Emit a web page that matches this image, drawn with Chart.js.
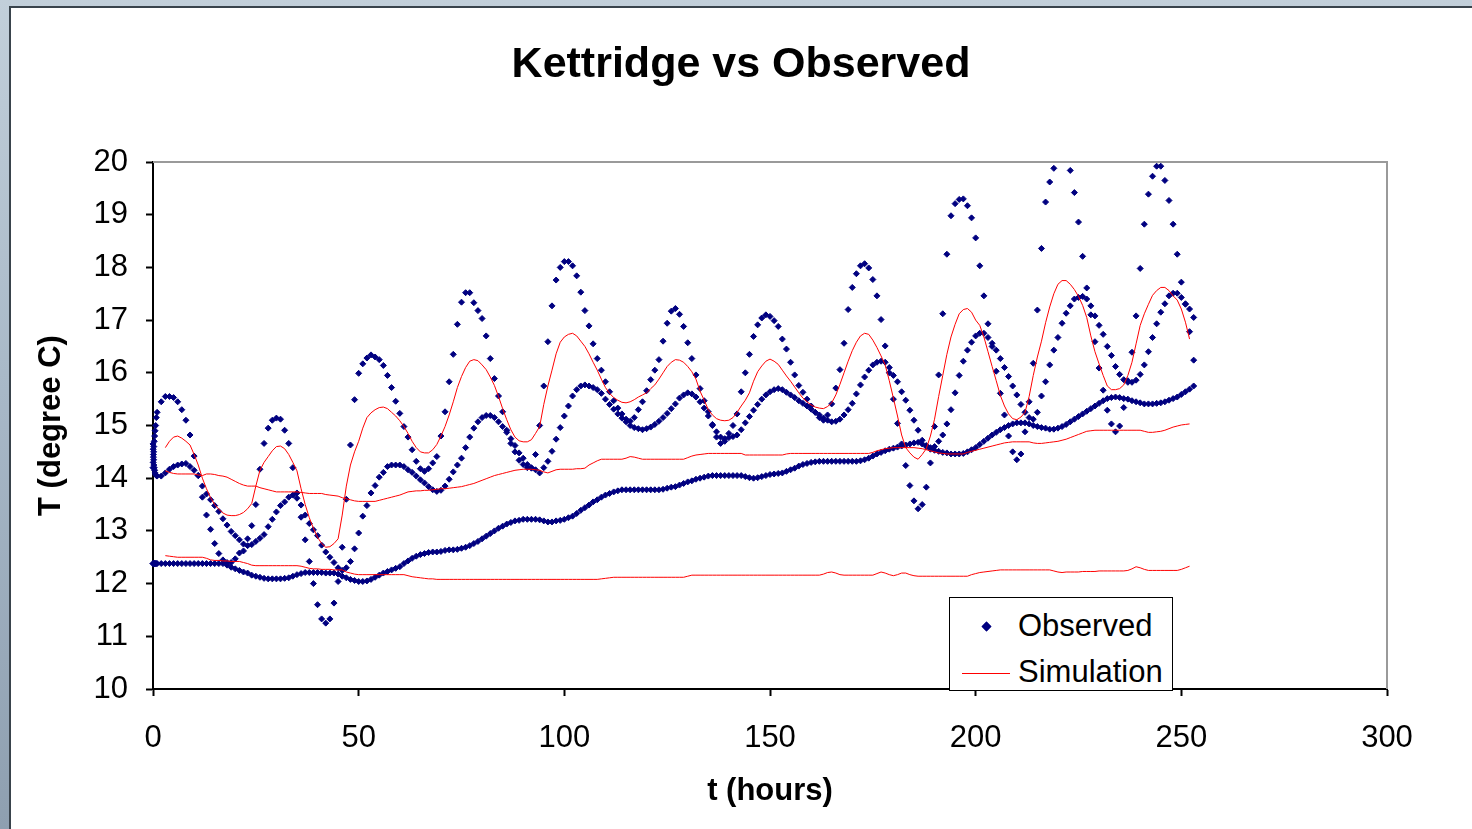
<!DOCTYPE html>
<html>
<head>
<meta charset="utf-8">
<title>Kettridge vs Observed</title>
<script src="https://cdn.jsdelivr.net/npm/chart.js@4.4.1/dist/chart.umd.min.js"></script>
<style>
html,body{margin:0;padding:0;}
body{width:1472px;height:829px;overflow:hidden;position:relative;
  background:linear-gradient(180deg,#c2cfda 0%,#a9b9c8 45%,#8e9fb0 100%);
  font-family:"Liberation Sans",Arial,sans-serif;}
#panel{position:absolute;left:9px;top:6px;right:-4px;bottom:-4px;background:#fff;
  border-left:2px solid #39434c;border-top:2px solid #39434c;}
#wrap{position:absolute;left:0;top:0;width:1472px;height:829px;}
#legend{position:absolute;left:949px;top:597px;width:222px;height:92px;border:1px solid #000;background:#fff;}
#legend .lbl{position:absolute;left:68px;font-size:31px;line-height:36px;color:#000;white-space:nowrap;}
#legend .dia{position:absolute;width:5px;height:5px;background:#000080;border:0.5px solid #000080;transform:rotate(45deg);}
#legend .ln{position:absolute;height:1px;background:#ff0000;}
</style>
</head>
<body>
<div id="panel"></div>
<div id="wrap"><canvas id="c"></canvas></div>
<div id="legend">
  <div class="dia" style="left:33px;top:25px;"></div>
  <div class="lbl" style="top:10px;">Observed</div>
  <div class="ln" style="left:12px;top:75px;width:48px;"></div>
  <div class="lbl" style="top:56px;">Simulation</div>
</div>
<script>
// ---------------- DATA ----------------
const titleText = 'Kettridge vs Observed';
const xTitle = 't (hours)';
const yTitle = 'T (degree C)';
const xTicks = [0, 50, 100, 150, 200, 250, 300];
const yTicks = [10, 11, 12, 13, 14, 15, 16, 17, 18, 19, 20];

// dense readings during the first hour (hours, degC)
const earlyHours   = [0.0, 0.05, 0.1, 0.15, 0.2, 0.3, 0.4, 0.5, 0.65, 0.8];
const earlyShallow = [14.2, 14.3, 14.4, 14.5, 14.6, 14.7, 14.8, 14.9, 15.0, 15.15];
const earlyMiddle  = [14.65, 14.55, 14.45, 14.35, 14.25, 14.2, 14.15, 14.1, 14.07, 14.05];
const earlyDeep    = [12.38, 12.38, 12.38, 12.38, 12.38, 12.38, 12.38, 12.38, 12.38, 12.38];

// hourly observed readings, first value at hour 1
const obsStartHour = 1;
const obsShallow = [
 15.25, 15.45, 15.55, 15.55, 15.53, 15.45, 15.3, 15.1, 14.82, 14.42,
 14.05, 13.64, 13.3, 13.03, 12.76, 12.57, 12.45, 12.4, 12.4, 12.47,
 12.58, 12.62, 12.85, 13.1, 13.5, 14.17, 14.66, 14.95, 15.1, 15.14,
 15.12, 14.91, 14.66, 14.2, 13.72, 13.26, 12.83, 12.42, 12.0, 11.6,
 11.33, 11.25, 11.33, 11.63, 12.04, 12.69, 13.6, 14.63, 15.49, 15.99,
 16.17, 16.28, 16.34, 16.3, 16.25, 16.14, 15.95, 15.72, 15.46, 15.23,
 14.98, 14.78, 14.54, 14.32, 14.18, 14.13, 14.18, 14.29, 14.41, 14.8,
 15.26, 15.83, 16.35, 16.92, 17.34, 17.52, 17.52, 17.33, 17.18, 17.03,
 16.7, 16.27, 15.89, 15.56, 15.26, 14.91, 14.66, 14.5, 14.34, 14.26,
 14.2, 14.19, 14.45, 15.0, 15.75, 16.59, 17.27, 17.76, 18.0, 18.11,
 18.11, 18.03, 17.84, 17.53, 17.18, 16.89, 16.55, 16.27, 16.05, 15.83,
 15.64, 15.47, 15.33, 15.22, 15.12, 15.08, 15.15, 15.3, 15.45, 15.66,
 15.87, 16.05, 16.25, 16.6, 16.94, 17.17, 17.22, 17.11, 16.88, 16.57,
 16.27, 15.96, 15.7, 15.47, 15.26, 15.0, 14.78, 14.66, 14.7, 14.85,
 15.0, 15.22, 15.64, 16.0, 16.35, 16.69, 16.91, 17.04, 17.1, 17.07,
 16.99, 16.88, 16.64, 16.45, 16.2, 15.96, 15.76, 15.63, 15.5, 15.37,
 15.25, 15.15, 15.1, 15.2, 15.41, 15.71, 16.06, 16.56, 17.2, 17.62,
 17.88, 18.03, 18.07, 17.99, 17.77, 17.46, 17.01, 16.51, 16.0, 15.5,
 15.04, 14.65, 14.24, 13.86, 13.57, 13.42, 13.5, 13.83, 14.29, 14.98,
 15.96, 17.12, 18.25, 18.98, 19.21, 19.29, 19.3, 19.17, 18.94, 18.56,
 18.03, 17.46, 16.93, 16.5, 16.03, 15.61, 15.2, 14.8, 14.5, 14.35,
 14.46, 14.88, 15.45, 16.18, 17.19, 18.36, 19.24, 19.62, 19.88, 20.15,
 20.25, 20.1, 19.84, 19.42, 18.86, 18.21, 17.61, 17.1, 16.59, 16.09,
 15.67, 15.29, 15.03, 14.88, 14.99, 15.34, 15.85, 16.39, 17.08, 17.98,
 18.82, 19.39, 19.73, 19.92, 19.92, 19.65, 19.27, 18.82, 18.25, 17.72,
 17.3, 16.78, 16.24
];
const obsMiddle = [
 14.04, 14.04, 14.1, 14.17, 14.22, 14.25, 14.27, 14.28, 14.22, 14.15,
 14.05, 13.85, 13.7, 13.59, 13.48, 13.37, 13.23, 13.11, 12.99, 12.91,
 12.83, 12.75, 12.72, 12.74, 12.8, 12.86, 12.93, 13.08, 13.22, 13.36,
 13.48, 13.55, 13.64, 13.68, 13.62, 13.49, 13.3, 13.14, 13.02, 12.91,
 12.73, 12.6, 12.5, 12.4, 12.3, 12.25, 12.3, 12.42, 12.66, 12.96,
 13.28, 13.48, 13.72, 13.86, 14.02, 14.11, 14.22, 14.25, 14.25, 14.25,
 14.22, 14.16, 14.11, 14.04, 13.97, 13.91, 13.84, 13.78, 13.75, 13.77,
 13.85, 13.98, 14.12, 14.25, 14.38, 14.58, 14.78, 14.95, 15.07, 15.15,
 15.19, 15.19, 15.15, 15.07, 14.98, 14.87, 14.75, 14.62, 14.48, 14.38,
 14.26, 14.2, 14.16, 14.1, 14.2, 14.32, 14.51, 14.74, 14.96, 15.18,
 15.37, 15.56, 15.68, 15.75, 15.77, 15.75, 15.72, 15.68, 15.61, 15.5,
 15.4, 15.31, 15.22, 15.14, 15.07, 15.0, 14.96, 14.94, 14.92, 14.94,
 14.97, 15.02, 15.08, 15.15, 15.23, 15.32, 15.41, 15.52, 15.58, 15.62,
 15.6, 15.54, 15.45, 15.33, 15.18, 15.02, 14.88, 14.78, 14.75, 14.77,
 14.79, 14.82, 14.92, 15.05, 15.17, 15.29, 15.4, 15.5, 15.58, 15.64,
 15.68, 15.7, 15.68, 15.63, 15.58, 15.53, 15.47, 15.42, 15.37, 15.31,
 15.25, 15.2, 15.14, 15.1, 15.07, 15.08, 15.12, 15.2, 15.3, 15.42,
 15.6, 15.77, 15.92, 16.05, 16.15, 16.2, 16.22, 16.2, 16.1, 15.95,
 15.83, 15.64, 15.48, 15.29, 15.1, 14.91, 14.72, 14.62, 14.58, 14.6,
 14.7, 14.82, 15.03, 15.3, 15.62, 15.95, 16.22, 16.43, 16.58, 16.7,
 16.75, 16.75, 16.67, 16.56, 16.43, 16.27, 16.1, 15.93, 15.75, 15.58,
 15.4, 15.25, 15.15, 15.12, 15.25, 15.56, 15.83, 16.15, 16.43, 16.67,
 16.94, 17.13, 17.27, 17.4, 17.43, 17.45, 17.4, 17.27, 17.08, 16.9,
 16.73, 16.5, 16.33, 16.12, 15.97, 15.87, 15.82, 15.82, 15.86, 15.97,
 16.15, 16.4, 16.67, 16.93, 17.15, 17.31, 17.46, 17.51, 17.51, 17.43,
 17.31, 17.21, 17.05
];
const obsDeep = [
 12.38, 12.38, 12.38, 12.38, 12.38, 12.38, 12.38, 12.38, 12.38, 12.38,
 12.38, 12.38, 12.38, 12.38, 12.38, 12.38, 12.38, 12.35, 12.31, 12.28,
 12.25, 12.22, 12.2, 12.16, 12.14, 12.12, 12.1, 12.09, 12.09, 12.09,
 12.09, 12.1, 12.11, 12.14, 12.17, 12.19, 12.21, 12.21, 12.21, 12.21,
 12.21, 12.2, 12.2, 12.2, 12.18, 12.14, 12.11, 12.08, 12.06, 12.04,
 12.04, 12.05, 12.08, 12.12, 12.16, 12.2, 12.23, 12.26, 12.29, 12.32,
 12.38, 12.43, 12.48, 12.52, 12.55, 12.57, 12.59, 12.6, 12.6, 12.61,
 12.63, 12.64, 12.64, 12.65, 12.67, 12.69, 12.72, 12.76, 12.8, 12.85,
 12.9, 12.95, 13.0, 13.05, 13.09, 13.13, 13.16, 13.19, 13.2, 13.22,
 13.22, 13.22, 13.22, 13.21, 13.19, 13.17, 13.17, 13.19, 13.2, 13.22,
 13.25, 13.28, 13.33, 13.39, 13.44, 13.49, 13.55, 13.59, 13.64, 13.68,
 13.71, 13.74, 13.76, 13.78, 13.78, 13.78, 13.78, 13.78, 13.78, 13.78,
 13.78, 13.78, 13.78, 13.79, 13.81, 13.83, 13.84, 13.87, 13.9, 13.93,
 13.95, 13.98, 14.0, 14.02, 14.04, 14.05, 14.05, 14.05, 14.05, 14.05,
 14.05, 14.05, 14.05, 14.03, 14.01, 14.0, 14.01, 14.03, 14.05, 14.07,
 14.08, 14.09, 14.1, 14.13, 14.16, 14.19, 14.23, 14.26, 14.28, 14.3,
 14.31, 14.32, 14.32, 14.32, 14.32, 14.32, 14.32, 14.32, 14.32, 14.32,
 14.32, 14.33, 14.35, 14.38, 14.42, 14.46, 14.49, 14.52, 14.55, 14.57,
 14.59, 14.61, 14.63, 14.65, 14.67, 14.68, 14.65, 14.6, 14.55, 14.53,
 14.51, 14.49, 14.48, 14.46, 14.46, 14.46, 14.47, 14.5, 14.54, 14.58,
 14.64, 14.7, 14.76, 14.82, 14.87, 14.92, 14.96, 15.0, 15.03, 15.05,
 15.05, 15.05, 15.03, 15.0, 14.98, 14.96, 14.95, 14.93, 14.93, 14.95,
 14.98, 15.02, 15.07, 15.12, 15.17, 15.22, 15.27, 15.32, 15.37, 15.42,
 15.47, 15.51, 15.53, 15.54, 15.53, 15.51, 15.5, 15.47, 15.45, 15.43,
 15.41, 15.41, 15.41, 15.42, 15.43, 15.45, 15.48, 15.51, 15.54, 15.59,
 15.64, 15.69, 15.75
];

// hourly simulation output, first value at hour 3
const simStartHour = 3;
const simShallow = [
 14.58, 14.7, 14.78, 14.8, 14.76, 14.7, 14.63, 14.45, 14.25, 14.0,
 13.8, 13.63, 13.5, 13.41, 13.34, 13.3, 13.29, 13.29, 13.31, 13.35,
 13.42, 13.52, 13.85, 14.15, 14.3, 14.41, 14.52, 14.6, 14.61, 14.56,
 14.45, 14.3, 14.14, 13.8, 13.5, 13.25, 13.05, 12.88, 12.76, 12.69,
 12.7, 12.76, 12.85, 13.3, 13.85, 14.25, 14.5, 14.7, 14.95, 15.15,
 15.24, 15.3, 15.34, 15.35, 15.32, 15.25, 15.18, 15.09, 14.98, 14.85,
 14.7, 14.58, 14.5, 14.48, 14.48, 14.54, 14.64, 14.8, 14.98, 15.2,
 15.45, 15.72, 15.93, 16.1, 16.22, 16.25, 16.23, 16.15, 16.06, 15.92,
 15.76, 15.55, 15.32, 15.11, 14.92, 14.78, 14.71, 14.69, 14.69, 14.73,
 14.85, 14.98, 15.4, 15.75, 16.05, 16.36, 16.58, 16.68, 16.73, 16.75,
 16.7, 16.6, 16.5, 16.36, 16.2, 16.05, 15.88, 15.72, 15.61, 15.53,
 15.48, 15.44, 15.43, 15.45, 15.49, 15.54, 15.58, 15.62, 15.7, 15.77,
 15.88, 16.0, 16.12, 16.2, 16.25, 16.24, 16.2, 16.12, 16.02, 15.88,
 15.65, 15.48, 15.3, 15.2, 15.13, 15.1, 15.09, 15.1, 15.15, 15.25,
 15.37, 15.48, 15.62, 15.84, 16.02, 16.13, 16.22, 16.26, 16.22, 16.16,
 16.05, 15.94, 15.84, 15.73, 15.62, 15.52, 15.45, 15.39, 15.35, 15.33,
 15.32, 15.36, 15.43, 15.58, 15.78, 16.0, 16.22, 16.42, 16.58, 16.7,
 16.75, 16.73, 16.62, 16.48, 16.32, 16.15, 15.85, 15.52, 15.18, 14.82,
 14.58, 14.48, 14.4, 14.36, 14.45, 14.56, 14.8, 15.12, 15.55, 15.95,
 16.35, 16.68, 16.92, 17.12, 17.2, 17.22, 17.15, 17.0, 16.9, 16.68,
 16.4, 16.12, 15.85, 15.57, 15.37, 15.22, 15.13, 15.11, 15.16, 15.25,
 15.55, 15.95, 16.3, 16.6, 16.95, 17.25, 17.5, 17.68, 17.75, 17.75,
 17.68, 17.58, 17.45, 17.28, 17.05, 16.7, 16.4, 16.17, 15.95, 15.75,
 15.68, 15.68, 15.7, 15.77, 15.95, 16.2, 16.55, 16.9, 17.12, 17.3,
 17.47, 17.56, 17.62, 17.62, 17.56, 17.46, 17.38, 17.21, 16.96, 16.64
];
const simMiddle = [
 14.14, 14.11, 14.09, 14.08, 14.08, 14.08, 14.08, 14.08, 14.06, 14.05,
 14.08, 14.08, 14.07, 14.05, 14.04, 14.02, 13.98, 13.94, 13.9, 13.87,
 13.85, 13.85, 13.85, 13.82, 13.8, 13.78, 13.76, 13.74, 13.74, 13.74,
 13.74, 13.74, 13.74, 13.73, 13.72, 13.71, 13.71, 13.71, 13.71, 13.69,
 13.68, 13.67, 13.66, 13.63, 13.61, 13.59, 13.57, 13.56, 13.56, 13.56,
 13.56, 13.56, 13.58, 13.6, 13.62, 13.64, 13.66, 13.68, 13.71, 13.74,
 13.75, 13.76, 13.76, 13.77, 13.77, 13.78, 13.79, 13.8, 13.8, 13.81,
 13.82, 13.83, 13.84, 13.86, 13.88, 13.9, 13.93, 13.96, 13.99, 14.02,
 14.05, 14.07, 14.09, 14.11, 14.13, 14.15, 14.16, 14.17, 14.17, 14.17,
 14.16, 14.15, 14.12, 14.1, 14.13, 14.16, 14.17, 14.17, 14.17, 14.17,
 14.18, 14.18, 14.19, 14.25, 14.29, 14.33, 14.36, 14.36, 14.36, 14.36,
 14.36, 14.36, 14.38, 14.41, 14.4, 14.38, 14.36, 14.36, 14.36, 14.36,
 14.36, 14.36, 14.36, 14.36, 14.36, 14.36, 14.36, 14.39, 14.42, 14.44,
 14.45, 14.46, 14.47, 14.47, 14.47, 14.47, 14.47, 14.47, 14.47, 14.47,
 14.47, 14.44, 14.44, 14.44, 14.44, 14.44, 14.44, 14.44, 14.44, 14.44,
 14.44, 14.46, 14.47, 14.47, 14.47, 14.47, 14.47, 14.47, 14.47, 14.47,
 14.47, 14.47, 14.47, 14.47, 14.47, 14.47, 14.47, 14.47, 14.47, 14.47,
 14.47, 14.47, 14.49, 14.52, 14.54, 14.56, 14.57, 14.58, 14.58, 14.58,
 14.58, 14.58, 14.58, 14.57, 14.56, 14.54, 14.52, 14.5, 14.48, 14.47,
 14.46, 14.46, 14.46, 14.46, 14.46, 14.49, 14.51, 14.53, 14.55, 14.57,
 14.59, 14.61, 14.63, 14.65, 14.67, 14.68, 14.69, 14.69, 14.69, 14.69,
 14.69, 14.67, 14.66, 14.66, 14.67, 14.68, 14.69, 14.7, 14.72, 14.74,
 14.77, 14.8, 14.83, 14.86, 14.89, 14.9, 14.91, 14.91, 14.91, 14.91,
 14.91, 14.91, 14.91, 14.91, 14.91, 14.91, 14.91, 14.91, 14.89, 14.87,
 14.87, 14.88, 14.89, 14.91, 14.94, 14.97, 14.99, 15.01, 15.02, 15.03
];
const simDeep = [
 12.53, 12.52, 12.51, 12.5, 12.5, 12.5, 12.5, 12.5, 12.5, 12.5,
 12.48, 12.45, 12.44, 12.44, 12.43, 12.43, 12.42, 12.42, 12.42, 12.4,
 12.38, 12.35, 12.34, 12.34, 12.34, 12.34, 12.34, 12.34, 12.34, 12.34,
 12.34, 12.34, 12.34, 12.33, 12.31, 12.29, 12.28, 12.28, 12.27, 12.27,
 12.27, 12.26, 12.26, 12.26, 12.22, 12.2, 12.18, 12.17, 12.17, 12.17,
 12.17, 12.17, 12.17, 12.17, 12.17, 12.17, 12.17, 12.17, 12.17, 12.15,
 12.13, 12.12, 12.11, 12.1, 12.09, 12.09, 12.08, 12.08, 12.08, 12.08,
 12.08, 12.08, 12.08, 12.08, 12.08, 12.08, 12.08, 12.08, 12.08, 12.08,
 12.08, 12.08, 12.08, 12.08, 12.08, 12.08, 12.08, 12.08, 12.08, 12.08,
 12.08, 12.08, 12.08, 12.08, 12.08, 12.08, 12.08, 12.08, 12.08, 12.08,
 12.08, 12.08, 12.08, 12.08, 12.08, 12.08, 12.09, 12.1, 12.11, 12.12,
 12.12, 12.12, 12.12, 12.12, 12.12, 12.12, 12.12, 12.12, 12.12, 12.12,
 12.12, 12.12, 12.12, 12.12, 12.12, 12.12, 12.12, 12.14, 12.16, 12.16,
 12.16, 12.16, 12.16, 12.16, 12.16, 12.16, 12.16, 12.16, 12.16, 12.16,
 12.16, 12.16, 12.16, 12.16, 12.16, 12.16, 12.16, 12.16, 12.16, 12.16,
 12.16, 12.16, 12.16, 12.16, 12.16, 12.16, 12.16, 12.16, 12.16, 12.16,
 12.18, 12.21, 12.22, 12.2, 12.17, 12.16, 12.16, 12.16, 12.16, 12.16,
 12.16, 12.16, 12.16, 12.19, 12.22, 12.2, 12.17, 12.15, 12.17, 12.2,
 12.2, 12.17, 12.15, 12.14, 12.14, 12.14, 12.14, 12.14, 12.14, 12.14,
 12.14, 12.14, 12.14, 12.14, 12.14, 12.14, 12.17, 12.19, 12.21, 12.22,
 12.23, 12.24, 12.25, 12.26, 12.26, 12.26, 12.26, 12.26, 12.26, 12.26,
 12.26, 12.26, 12.26, 12.26, 12.26, 12.26, 12.24, 12.22, 12.21, 12.22,
 12.22, 12.22, 12.22, 12.23, 12.23, 12.23, 12.23, 12.24, 12.24, 12.24,
 12.24, 12.24, 12.24, 12.24, 12.25, 12.28, 12.32, 12.3, 12.27, 12.25,
 12.25, 12.25, 12.25, 12.25, 12.25, 12.25, 12.25, 12.27, 12.3, 12.33
];

// ---------------- BUILD ----------------
function hourly(values, start) { return values.map((v, i) => ({ x: start + i, y: v })); }
function paired(hours, values) { return hours.map((h, i) => ({ x: h, y: values[i] })); }

const NAVY = '#000080';
const RED = '#ff0000';

function obsDataset(label, early, values) {
  return {
    label: label,
    data: paired(earlyHours, early).concat(hourly(values, obsStartHour)),
    showLine: false,
    pointStyle: 'rectRot',
    pointRadius: 3,
    pointBorderWidth: 1,
    backgroundColor: NAVY,
    borderColor: NAVY,
    clip: { left: 8, top: 0, right: 8, bottom: 8 },
    order: 2
  };
}
function simDataset(label, values) {
  return {
    label: label,
    data: hourly(values, simStartHour),
    showLine: true,
    pointRadius: 0,
    borderColor: RED,
    backgroundColor: RED,
    borderWidth: 1,
    tension: 0,
    order: 1
  };
}

const framePlugin = {
  id: 'plotFrame',
  beforeDatasetsDraw(chart) {
    const { ctx, chartArea: { left, top, right, bottom } } = chart;
    ctx.save();
    ctx.strokeStyle = '#9a9a9a';
    ctx.lineWidth = 2;
    ctx.beginPath();
    ctx.moveTo(left, top);
    ctx.lineTo(right, top);
    ctx.lineTo(right, bottom);
    ctx.stroke();
    ctx.restore();
  }
};

Chart.defaults.font.family = '"Liberation Sans", Arial, sans-serif';
Chart.defaults.color = '#000';

new Chart(document.getElementById('c'), {
  type: 'scatter',
  data: {
    datasets: [
      obsDataset('Observed', earlyShallow, obsShallow),
      obsDataset('Observed', earlyMiddle, obsMiddle),
      obsDataset('Observed', earlyDeep, obsDeep),
      simDataset('Simulation', simShallow),
      simDataset('Simulation', simMiddle),
      simDataset('Simulation', simDeep)
    ]
  },
  options: {
    responsive: true,
    maintainAspectRatio: false,
    animation: false,
    events: [],
    layout: { padding: { left: 10, right: 0, top: 0, bottom: 9 } },
    plugins: {
      legend: { display: false },
      tooltip: { enabled: false },
      title: {
        display: true,
        text: titleText,
        color: '#000',
        font: { size: 43, weight: 'bold' },
        padding: { top: 39, bottom: 71.4 }
      }
    },
    scales: {
      x: {
        type: 'linear',
        position: 'bottom',
        min: xTicks[0],
        max: xTicks[xTicks.length - 1],
        afterBuildTicks: (s) => { s.ticks = xTicks.map(v => ({ value: v })); },
        afterFit: (s) => { s.height = 131; },
        grid: { drawOnChartArea: false, drawTicks: true, tickLength: 7, tickColor: '#000', tickWidth: 2 },
        border: { display: true, color: '#000', width: 2 },
        ticks: { color: '#000', font: { size: 31 }, padding: 24, maxRotation: 0 },
        title: { display: true, text: xTitle, color: '#000', font: { size: 31, weight: 'bold' }, padding: { top: 0, bottom: 10 } }
      },
      y: {
        type: 'linear',
        position: 'left',
        min: yTicks[0],
        max: yTicks[yTicks.length - 1],
        afterBuildTicks: (s) => { s.ticks = yTicks.map(v => ({ value: v })); },
        afterFit: (s) => { s.width = 143; },
        grid: { drawOnChartArea: false, drawTicks: true, tickLength: 7, tickColor: '#000', tickWidth: 2 },
        border: { display: true, color: '#000', width: 2 },
        ticks: { color: '#000', font: { size: 31 }, padding: 18 },
        title: { display: true, text: yTitle, color: '#000', font: { size: 31, weight: 'bold' }, padding: { top: 23, bottom: 0 } }
      },
      yRight: {
        type: 'linear',
        position: 'right',
        display: true,
        afterFit: (s) => { s.width = 85; },
        grid: { display: false, drawTicks: false },
        border: { display: false },
        ticks: { display: false }
      }
    }
  },
  plugins: [framePlugin]
});
</script>
</body>
</html>
